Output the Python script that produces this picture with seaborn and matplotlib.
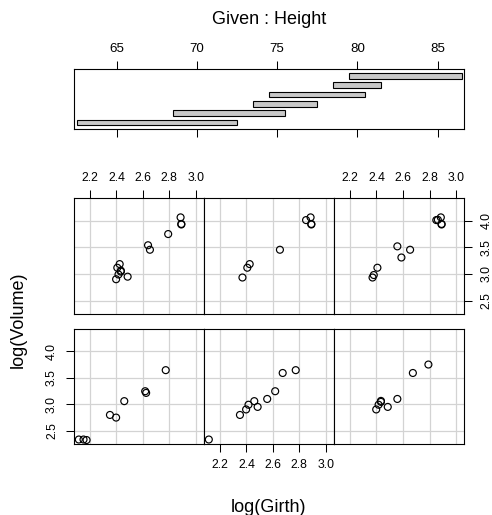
import numpy as np
import pandas as pd
import seaborn as sns
import matplotlib
matplotlib.use('Agg')
import matplotlib.pyplot as plt

# trees data: Girth, Height, Volume
girth = [8.3, 8.6, 8.8, 10.5, 10.7, 10.8, 11.0, 11.0, 11.1, 11.2, 11.3, 11.4, 11.4, 11.7, 12.0, 12.9,
         12.9, 13.3, 13.7, 13.8, 14.0, 14.2, 14.5, 16.0, 16.3, 17.3, 17.5, 17.9, 18.0, 18.0, 20.6]
height = [70, 65, 63, 72, 81, 83, 66, 75, 80, 75, 79, 76, 76, 69, 75, 74,
          85, 86, 71, 64, 78, 80, 74, 72, 77, 81, 82, 80, 80, 80, 87]
volume = [10.3, 10.3, 10.2, 16.4, 18.8, 19.7, 15.6, 18.2, 22.6, 19.9, 24.2, 21.0, 21.4, 21.3, 19.1, 22.2,
          33.8, 27.4, 25.7, 24.9, 34.5, 31.7, 36.3, 38.3, 42.6, 55.4, 55.7, 58.3, 51.5, 51.0, 77.0]

# conditioning intervals on Height (given panel)
int_lo = [62.5, 68.5, 73.5, 74.5, 78.5, 79.5]
int_hi = [72.5, 75.5, 77.5, 80.5, 81.5, 86.5]

h_ticks = [65, 70, 75, 80, 85]
x_ticks = [2.2, 2.4, 2.6, 2.8, 3.0]
y_ticks = [2.5, 3.0, 3.5, 4.0]

df = pd.DataFrame({'lg': np.log(girth), 'lv': np.log(volume), 'Height': height})

sns.set_theme(style='white')
plt.rcParams['font.family'] = ['Liberation Sans', 'DejaVu Sans']
plt.rcParams['text.color'] = 'black'
plt.rcParams['xtick.color'] = 'black'
plt.rcParams['ytick.color'] = 'black'

W, H = 492, 515
fig = plt.figure(figsize=(W / 100, H / 100), dpi=100)


def box(x0, y0, x1, y1):
    return [x0 / W, 1 - y1 / H, (x1 - x0) / W, (y1 - y0) / H]


def frame(ax):
    for s in ax.spines.values():
        s.set_color('black')
        s.set_linewidth(0.8)


# given panel
gax = fig.add_axes(box(74, 69.3, 464.3, 129))
gax.barh(np.arange(1, 7), np.subtract(int_hi, int_lo), left=int_lo, height=0.6,
         color='#c8c8c8', edgecolor='black', linewidth=0.8)
gax.set_xlim(62.33, 86.67)
gax.set_ylim(0.3, 6.7)
gax.set_xticks(h_ticks)
gax.set_yticks([])
gax.tick_params(axis='x', top=True, bottom=True, labeltop=True, labelbottom=False,
                direction='out', length=5.5, width=0.75, pad=5, labelsize=9.6, colors='black')
frame(gax)

# conditioning panels
cols = [74, 204, 334, 464.3]
rows = {0: (329, 444.3), 1: (198.3, 314.3)}

lo, hi = df['lg'].min(), df['lg'].max()
xpad = 0.04 * (hi - lo)
vlo, vhi = df['lv'].min(), df['lv'].max()
ypad = 0.04 * (vhi - vlo)

for i in range(6):
    r, c = divmod(i, 3)
    y0, y1 = rows[r]
    ax = fig.add_axes(box(cols[c], y0, cols[c + 1], y1))
    sub = df[(df['Height'] >= int_lo[i]) & (df['Height'] <= int_hi[i])]
    ax.grid(True, color='#d3d3d3', linewidth=0.9)
    ax.set_axisbelow(True)
    sns.scatterplot(data=sub, x='lg', y='lv', ax=ax, marker='o', s=25,
                    facecolor='none', edgecolor='black', linewidth=0.85)
    ax.set_xlim(lo - xpad, hi + xpad)
    ax.set_ylim(vlo - ypad, vhi + ypad)
    ax.set_xticks(x_ticks)
    ax.set_yticks(y_ticks)
    ax.set_xticklabels(['%.1f' % v for v in x_ticks])
    ax.set_yticklabels(['%.1f' % v for v in y_ticks])
    ax.set_xlabel('')
    ax.set_ylabel('')
    ax.tick_params(axis='both', length=0, labelbottom=False, labelleft=False,
                   labeltop=False, labelright=False, direction='out',
                   width=0.75, labelsize=8.8, colors='black')
    if i in (3, 5):
        ax.tick_params(axis='x', top=True, labeltop=True, length=5.5, pad=5)
    if i == 1:
        ax.tick_params(axis='x', bottom=True, labelbottom=True, length=5.5, pad=5)
    if i == 5:
        ax.tick_params(axis='y', right=True, labelright=True, length=5.5, pad=6,
                       labelrotation=90)
    if i == 0:
        ax.tick_params(axis='y', left=True, labelleft=True, length=5.5, pad=6,
                       labelrotation=90)
    for lab in ax.get_yticklabels():
        lab.set_va('center')
    frame(ax)

fig.text(269 / W, 1 - 19 / H, 'Given : Height', ha='center', va='center', fontsize=13)
fig.text(269 / W, 1 - 507 / H, 'log(Girth)', ha='center', va='center', fontsize=13)
fig.text(18 / W, 1 - 320 / H, 'log(Volume)', ha='center', va='center', rotation=90, fontsize=13)

fig.savefig('out.png', dpi=100)
